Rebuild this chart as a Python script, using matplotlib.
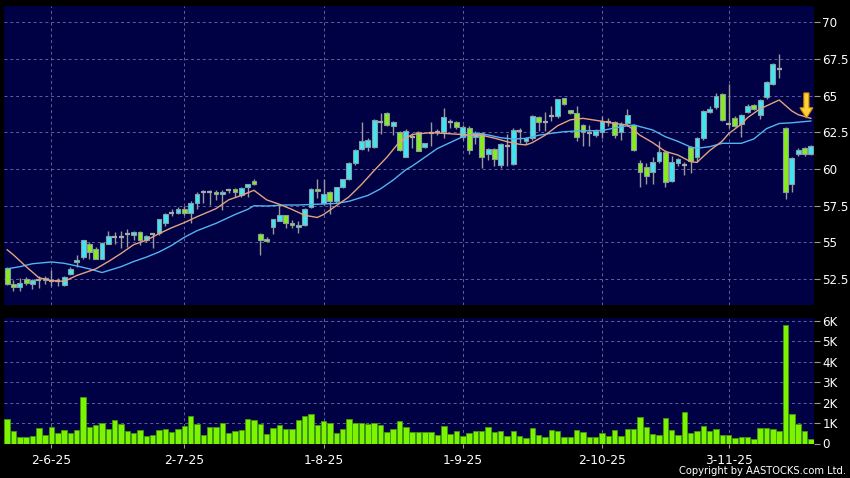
import numpy as np
import matplotlib
matplotlib.use('Agg')
import matplotlib.pyplot as plt
from matplotlib.patches import FancyArrow

# daily candles (open, high, low, close)
opens = [53.25, 52.16, 51.96, 52.50, 52.17, 52.45, 52.45, 52.35, 52.40, 52.10,
         52.86, 53.65, 53.98, 54.88, 54.56, 53.90, 54.92, 55.38, 55.40, 55.55,
         55.50, 55.73, 55.20, 55.55, 55.62, 56.30, 57.00, 56.98, 57.28, 56.98,
         57.66, 58.41, 58.43, 58.45, 58.28, 58.60, 58.65, 58.22, 58.76, 59.20,
         55.60, 55.25, 56.03, 56.48, 56.87, 56.33, 56.05, 56.20, 57.39, 58.66,
         57.66, 58.41, 57.84, 58.75, 59.30, 60.39, 61.34, 61.50, 61.52, 63.20,
         63.80, 62.90, 62.55, 60.84, 62.20, 62.55, 61.48, 62.47, 62.50, 62.54,
         63.22, 63.22, 62.20, 62.82, 62.20, 62.47, 61.00, 61.34, 60.27, 61.60,
         60.34, 62.60, 61.93, 62.09, 63.54, 63.18, 63.63, 63.60, 64.81, 64.02,
         63.80, 63.00, 62.43, 62.30, 62.55, 63.22, 63.20, 62.52, 63.10, 62.97,
         60.40, 60.16, 59.80, 60.54, 61.18, 59.18, 60.39, 60.29, 61.52, 60.84,
         62.09, 63.90, 64.20, 65.10, 63.04, 63.45, 63.04, 63.90, 64.35, 63.70,
         64.93, 65.77, 66.80, 62.81, 58.95, 61.00, 61.45, 61.00]
highs = [53.35, 52.46, 52.57, 52.63, 52.53, 52.70, 52.70, 53.15, 52.60, 52.73,
         53.35, 54.14, 55.20, 55.00, 54.70, 55.04, 55.75, 55.70, 55.75, 55.90,
         55.80, 55.75, 55.50, 55.60, 56.60, 57.00, 57.30, 57.40, 57.45, 57.80,
         58.45, 58.55, 58.55, 58.60, 58.55, 58.65, 58.70, 58.80, 59.00, 59.30,
         55.65, 55.40, 56.60, 57.60, 56.90, 56.50, 56.45, 57.35, 58.70, 59.30,
         59.30, 58.50, 58.80, 59.35, 60.45, 61.35, 63.18, 62.10, 63.40, 63.80,
         63.90, 63.30, 62.60, 62.70, 62.45, 62.60, 61.80, 63.20, 62.70, 64.18,
         63.40, 63.30, 63.00, 62.90, 62.60, 62.55, 61.45, 61.40, 61.75, 62.40,
         62.80, 62.82, 62.20, 63.70, 63.60, 63.90, 64.30, 64.80, 64.85, 64.05,
         64.30, 63.05, 63.00, 62.70, 63.60, 63.50, 63.30, 63.20, 64.10, 63.05,
         60.60, 60.40, 60.80, 61.90, 61.30, 60.90, 60.75, 60.45, 61.60, 62.15,
         64.00, 64.30, 65.20, 65.15, 65.80, 63.60, 63.75, 64.40, 64.45, 64.80,
         66.00, 67.20, 67.80, 62.85, 60.80, 61.45, 61.50, 61.65]
lows = [52.10, 51.67, 51.67, 52.12, 51.83, 51.90, 52.20, 52.00, 52.00, 52.00,
        52.80, 53.35, 53.90, 53.85, 53.85, 53.85, 54.88, 54.90, 54.60, 54.70,
        55.20, 54.85, 55.00, 54.60, 55.50, 56.10, 56.80, 56.95, 56.90, 56.30,
        57.30, 57.70, 57.55, 57.90, 57.20, 58.35, 58.10, 58.10, 58.10, 58.90,
        54.15, 55.00, 55.60, 56.45, 56.00, 55.97, 55.65, 56.15, 57.35, 58.00,
        57.55, 56.95, 57.70, 58.70, 59.25, 60.30, 61.30, 61.20, 61.40, 62.40,
        62.90, 62.30, 61.20, 60.80, 61.45, 61.20, 61.40, 61.60, 62.30, 62.10,
        62.80, 62.70, 62.00, 61.00, 61.70, 60.05, 60.60, 60.20, 60.10, 60.20,
        60.30, 61.75, 61.70, 62.00, 62.60, 62.60, 63.30, 63.50, 64.35, 63.75,
        61.90, 61.60, 61.60, 62.20, 62.10, 62.90, 62.10, 62.00, 62.90, 61.20,
        58.80, 59.00, 59.00, 60.40, 58.80, 59.10, 60.20, 59.60, 59.70, 60.50,
        62.00, 63.80, 64.10, 63.30, 62.80, 62.85, 62.20, 63.80, 64.00, 63.40,
        64.80, 65.70, 66.20, 57.99, 58.45, 60.90, 60.90, 60.95]
closes = [52.20, 51.96, 52.23, 52.23, 52.46, 52.45, 52.55, 52.35, 52.40, 52.64,
          53.20, 53.80, 55.15, 54.32, 53.90, 54.97, 55.42, 55.38, 55.40, 55.55,
          55.73, 55.20, 55.45, 55.55, 56.57, 56.95, 57.00, 57.28, 56.98, 57.66,
          58.30, 58.41, 58.43, 58.28, 58.45, 58.60, 58.45, 58.72, 58.95, 58.97,
          55.20, 55.12, 56.57, 56.87, 56.33, 56.20, 56.20, 57.30, 58.66, 58.50,
          58.28, 57.84, 58.75, 59.30, 60.39, 61.30, 61.90, 62.00, 63.34, 63.20,
          63.00, 63.20, 61.30, 62.62, 62.20, 61.23, 61.75, 62.47, 62.50, 63.52,
          63.22, 62.84, 62.84, 61.29, 62.45, 60.84, 61.34, 60.66, 61.68, 61.60,
          62.66, 62.60, 62.10, 63.60, 63.20, 63.18, 63.63, 64.77, 64.40, 63.80,
          62.20, 62.50, 62.43, 62.60, 63.25, 63.22, 62.32, 63.08, 63.65, 61.30,
          59.80, 59.50, 60.50, 61.18, 59.09, 60.45, 60.66, 60.29, 60.54, 62.09,
          63.95, 64.10, 65.00, 63.35, 63.04, 62.93, 63.68, 64.30, 64.10, 64.70,
          65.95, 67.13, 66.80, 58.45, 60.77, 61.30, 61.00, 61.60]

# volume in thousands of shares
volume_k = [1.22, 0.60, 0.31, 0.31, 0.39, 0.77, 0.41, 0.80, 0.50, 0.64,
            0.50, 0.64, 2.25, 0.80, 0.90, 0.98, 0.69, 1.16, 0.95, 0.59,
            0.52, 0.64, 0.36, 0.41, 0.64, 0.72, 0.55, 0.70, 0.85, 1.32,
            0.96, 0.41, 0.80, 0.82, 0.98, 0.49, 0.62, 0.67, 1.22, 1.17,
            0.96, 0.46, 0.77, 0.90, 0.69, 0.69, 1.17, 1.33, 1.44, 0.92,
            1.10, 1.02, 0.49, 0.69, 1.21, 0.98, 1.00, 0.95, 1.00, 0.89,
            0.54, 0.72, 1.10, 0.82, 0.54, 0.54, 0.54, 0.54, 0.41, 0.85,
            0.46, 0.61, 0.38, 0.52, 0.61, 0.61, 0.79, 0.54, 0.61, 0.36,
            0.62, 0.38, 0.25, 0.77, 0.41, 0.30, 0.65, 0.63, 0.31, 0.34,
            0.64, 0.55, 0.31, 0.31, 0.49, 0.38, 0.64, 0.36, 0.72, 0.72,
            1.31, 0.82, 0.46, 0.41, 1.24, 0.65, 0.41, 1.52, 0.49, 0.62,
            0.85, 0.60, 0.69, 0.41, 0.41, 0.29, 0.34, 0.33, 0.24, 0.75,
            0.75, 0.73, 0.60, 5.79, 1.42, 0.93, 0.62, 0.21]

# moving averages, read at a few bars along each line
ma_short_idx = [0, 1, 3, 5, 7, 9, 11, 14, 16, 18, 20, 22, 24, 26, 28, 30, 33, 35, 37, 39,
                41, 43, 45, 47, 49, 50, 52, 54, 56, 58, 60, 62, 64, 67, 70, 73, 75, 77, 79, 81,
                82, 83, 85, 87, 89, 91, 94, 96, 98, 100, 102, 104, 106, 108, 109, 111, 113, 114, 116, 117,
                119, 122, 124, 125, 127]
ma_short = [54.50, 54.15, 53.35, 52.60, 52.40, 52.35, 52.75, 53.20, 53.70, 54.25,
            54.85, 55.15, 55.60, 56.00, 56.35, 56.75, 57.30, 57.90, 58.20, 58.55,
            57.90, 57.60, 57.25, 56.85, 56.70, 56.90, 57.50, 58.10, 58.95, 59.90,
            60.80, 61.85, 62.35, 62.48, 62.40, 62.32, 62.30, 62.10, 61.86, 61.68,
            61.64, 61.80, 62.30, 62.95, 63.35, 63.45, 63.25, 63.10, 63.00, 62.30,
            61.80, 61.20, 60.95, 60.50, 60.45, 61.25, 61.90, 62.40, 63.05, 63.50,
            64.10, 64.70, 63.95, 63.70, 63.45]
ma_long_idx = [0, 2, 4, 7, 9, 11, 13, 15, 18, 20, 22, 24, 26, 28, 30, 33, 36, 38, 39, 41,
               44, 46, 49, 52, 54, 57, 59, 61, 63, 64, 65, 68, 72, 74, 76, 78, 80, 82, 84, 86,
               88, 90, 94, 97, 99, 102, 104, 106, 108, 109, 111, 113, 116, 118, 120, 122, 124, 127]
ma_long = [53.20, 53.35, 53.55, 53.67, 53.58, 53.40, 53.20, 52.95, 53.35, 53.70,
           54.00, 54.35, 54.80, 55.35, 55.80, 56.30, 56.90, 57.25, 57.50, 57.48,
           57.55, 57.55, 57.60, 57.66, 57.80, 58.20, 58.65, 59.25, 59.95, 60.20,
           60.50, 61.40, 62.20, 62.43, 62.32, 62.13, 62.04, 62.09, 62.30, 62.43,
           62.54, 62.59, 62.62, 62.88, 63.00, 62.66, 62.20, 61.88, 61.50, 61.41,
           61.52, 61.75, 61.75, 62.05, 62.75, 63.10, 63.15, 63.27]

date_idx = [7, 28, 50, 72, 94, 114]
date_labels = ['2-6-25', '2-7-25', '1-8-25', '1-9-25', '2-10-25', '3-11-25']
price_ticks = [52.5, 55, 57.5, 60, 62.5, 65, 67.5, 70]
vol_ticks = [0, 1000, 2000, 3000, 4000, 5000, 6000]
vol_labels = ['0', '1K', '2K', '3K', '4K', '5K', '6K']

o = np.array(opens)
h = np.array(highs)
l = np.array(lows)
c = np.array(closes)
x = np.arange(len(o))

navy = '#000044'
grid_col = '#62629a'
up_col = '#3fe6f2'
down_col = '#86ec1e'
edge_col = '#8b9ca2'

W, H = 850, 478


def box(left, top, right, bottom):
    # pixel box -> figure fraction
    return [left / W, 1 - bottom / H, (right - left) / W, (bottom - top) / H]


fig = plt.figure(figsize=(8.5, 4.78), dpi=100, facecolor='black')
ax = fig.add_axes(box(4, 6, 814, 305))
axv = fig.add_axes(box(4, 318, 814, 443.5), sharex=ax)

for a in (ax, axv):
    a.set_facecolor(navy)
    for s in a.spines.values():
        s.set_visible(False)
    a.set_axisbelow(True)
    a.grid(True, color=grid_col, linestyle=(0, (3, 3)), linewidth=0.7)
    a.yaxis.tick_right()
    a.tick_params(axis='y', colors='white', labelsize=8.6, length=4, width=0.8, pad=2)
    a.tick_params(axis='y', color='#9a9a9a')

# candles
up = c > o
down = c < o
doji = c == o
ax.vlines(x, l, h, color='#9a9a9a', linewidth=1, zorder=2)
ax.bar(x[up], (c - o)[up], bottom=o[up], width=0.76, color=up_col,
       edgecolor=edge_col, linewidth=0.8, zorder=3)
ax.bar(x[down], (o - c)[down], bottom=c[down], width=0.76, color=down_col,
       edgecolor=edge_col, linewidth=0.8, zorder=3)
ax.hlines(o[doji], x[doji] - 0.4, x[doji] + 0.4, color='#a8a8a8', linewidth=1.6, zorder=3)

ax.plot(ma_long_idx, ma_long, color='#52b4ee', linewidth=1.0, zorder=4)
ax.plot(ma_short_idx, ma_short, color='#e5a27f', linewidth=1.0, zorder=4)

# yellow marker arrow at the end
ax.add_patch(FancyArrow(126.3, 65.18, 0, -1.71, width=0.8, head_width=2.05,
                        head_length=0.7, length_includes_head=True,
                        facecolor='#ffd23c', edgecolor='#d98a00', linewidth=0.8, zorder=5))

ax.set_xlim(-0.5, len(o) - 0.5)
ax.set_ylim(50.74, 71.1)
ax.set_yticks(price_ticks)
ax.set_yticklabels([f'{t:g}' for t in price_ticks])
ax.tick_params(axis='x', length=0, labelbottom=False)

# volume
axv.bar(x, np.array(volume_k) * 1000, width=0.86, color='#7cf400',
        edgecolor='#3f9a10', linewidth=0.6, zorder=3)
axv.set_ylim(0, 6130)
axv.set_yticks(vol_ticks)
axv.set_yticklabels(vol_labels)
axv.set_xticks(date_idx)
axv.set_xticklabels(date_labels)
axv.tick_params(axis='x', colors='white', labelsize=8.8, length=3, width=0.8, pad=4.5)
axv.tick_params(axis='x', color='#9a9a9a')

fig.text(846 / W, 1 - 471 / H, 'Copyright by AASTOCKS.com Ltd.', ha='right', va='center',
         color='white', fontsize=7.2)

fig.savefig('out.png', dpi=100, facecolor='black')
